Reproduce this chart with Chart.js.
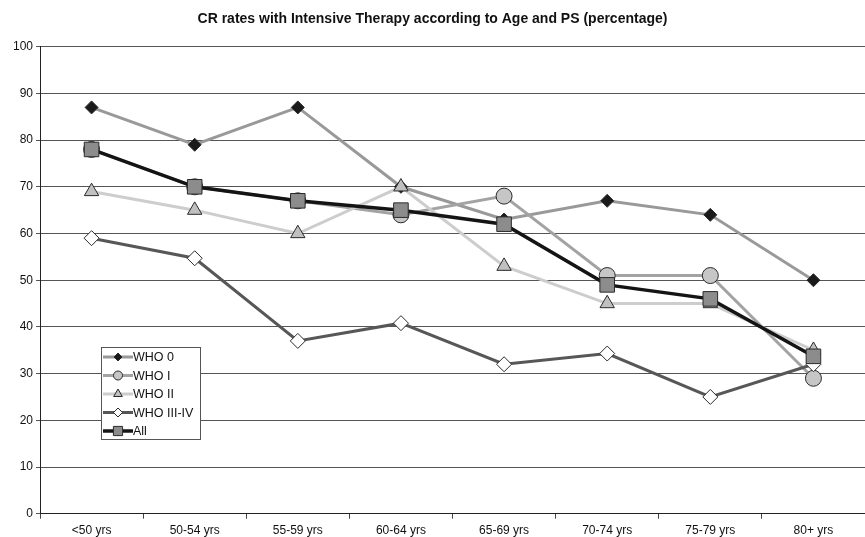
<!DOCTYPE html>
<html>
<head>
<meta charset="utf-8">
<script src="https://cdn.jsdelivr.net/npm/chart.js@4.4.0/dist/chart.umd.min.js"></script>
<style>
  html, body { margin: 0; padding: 0; background: #fff; overflow: hidden; }
  #wrap { position: relative; width: 865px; height: 537px; }
  #crChart { display: block; }
</style>
</head>
<body>
<div id="wrap"><canvas id="crChart"></canvas></div>
<script>
// Data
const ageGroups = ['<50 yrs', '50-54 yrs', '55-59 yrs', '60-64 yrs', '65-69 yrs', '70-74 yrs', '75-79 yrs', '80+ yrs'];
const who0 = [87, 79, 87, 70, 63, 67, 64, 50];
const who1 = [78, 70, 67, 64, 68, 51, 51, 29];
const who2 = [69, 65, 60, 70, 53, 45, 45, 35];
const who34 = [59, 54.7, 37, 40.8, 32, 34.3, 25, 32];
const allPatients = [78, 70, 67, 65, 62, 49, 46, 33.7];
const yMin = 0, yMax = 100, yStep = 10;

const FONT = '"Liberation Sans", Arial, sans-serif';

function series(label, data, line, lineWidth, style, radius, fill, order) {
  return {
    label: label,
    data: data,
    borderColor: line,
    borderWidth: lineWidth,
    pointStyle: style,
    pointRadius: radius,
    pointHoverRadius: radius,
    pointBackgroundColor: fill,
    pointBorderColor: '#2a2a2a',
    pointBorderWidth: 1,
    tension: 0,
    fill: false,
    clip: false,
    order: order
  };
}

const datasets = [
  series('WHO 0', who0, '#999999', 3, 'rectRot', 6.5, '#1a1a1a', 4),
  series('WHO I', who1, '#a3a3a3', 3, 'circle', 8, '#c6c6c6', 3),
  series('WHO II', who2, '#cdcdcd', 3, 'triangle', 8.3, '#c0c0c0', 2),
  series('WHO III-IV', who34, '#575757', 3, 'rectRot', 7.5, '#ffffff', 1),
  series('All', allPatients, '#141414', 3.5, 'rect', 10.3, '#8c8c8c', 0)
];

// Legend box drawn inside the plot, like the original
const legendSmall = { 'WHO 0': 4, 'WHO I': 4.5, 'WHO II': 5, 'WHO III-IV': 4.5, 'All': 6.5 };
const boxLegend = {
  id: 'boxLegend',
  afterDatasetsDraw(chart) {
    const ctx = chart.ctx;
    const bx = 101, by = 347, bw = 99, bh = 92;
    ctx.save();
    ctx.fillStyle = '#ffffff';
    ctx.fillRect(bx, by, bw, bh);
    ctx.strokeStyle = '#555555';
    ctx.lineWidth = 1;
    ctx.strokeRect(bx + 0.5, by + 0.5, bw, bh);
    ctx.font = '12.5px ' + FONT;
    ctx.textBaseline = 'middle';
    chart.data.datasets.forEach((ds, i) => {
      const y = by + 10 + i * 18.5;
      ctx.strokeStyle = ds.borderColor;
      ctx.lineWidth = ds.borderWidth;
      ctx.beginPath();
      ctx.moveTo(103, y);
      ctx.lineTo(133, y);
      ctx.stroke();
      ctx.fillStyle = ds.pointBackgroundColor;
      ctx.strokeStyle = ds.pointBorderColor;
      ctx.lineWidth = 1;
      Chart.helpers.drawPoint(ctx, {
        pointStyle: ds.pointStyle,
        radius: legendSmall[ds.label],
        rotation: 0,
        borderWidth: 1
      }, 118, y);
      ctx.fillStyle = '#111111';
      ctx.fillText(ds.label, 133, y + 1);
    });
    ctx.restore();
  }
};

new Chart(document.getElementById('crChart'), {
  type: 'line',
  data: { labels: ageGroups, datasets: datasets },
  plugins: [boxLegend],
  options: {
    responsive: true,
    maintainAspectRatio: false,
    animation: false,
    layout: { autoPadding: false, padding: { top: 0, right: 0, bottom: 0, left: 0 } },
    plugins: {
      legend: { display: false },
      tooltip: { enabled: false },
      title: {
        display: true,
        text: 'CR rates with Intensive Therapy according to Age and PS (percentage)',
        color: '#111111',
        font: { family: FONT, size: 14, weight: 'bold' },
        padding: { top: 11, bottom: 18.9 }
      }
    },
    scales: {
      x: {
        offset: true,
        grid: {
          offset: true,
          drawOnChartArea: false,
          drawTicks: true,
          tickLength: 5,
          color: '#444444'
        },
        border: { display: true, color: '#222222', width: 1 },
        ticks: {
          color: '#111111',
          font: { family: FONT, size: 12 },
          padding: 5,
          maxRotation: 0,
          autoSkip: false
        },
        afterFit(scale) {
          scale.height = 23.3;
          scale.paddingLeft = 0;
          scale.paddingRight = 0;
        }
      },
      y: {
        min: yMin,
        max: yMax,
        grid: {
          color: '#555555',
          lineWidth: 1,
          drawTicks: true,
          tickLength: 4
        },
        border: { display: true, color: '#222222', width: 1 },
        ticks: {
          stepSize: yStep,
          color: '#111111',
          font: { family: FONT, size: 12 },
          padding: 3
        },
        afterFit(scale) { scale.width = 40; }
      }
    }
  }
});
</script>
</body>
</html>
